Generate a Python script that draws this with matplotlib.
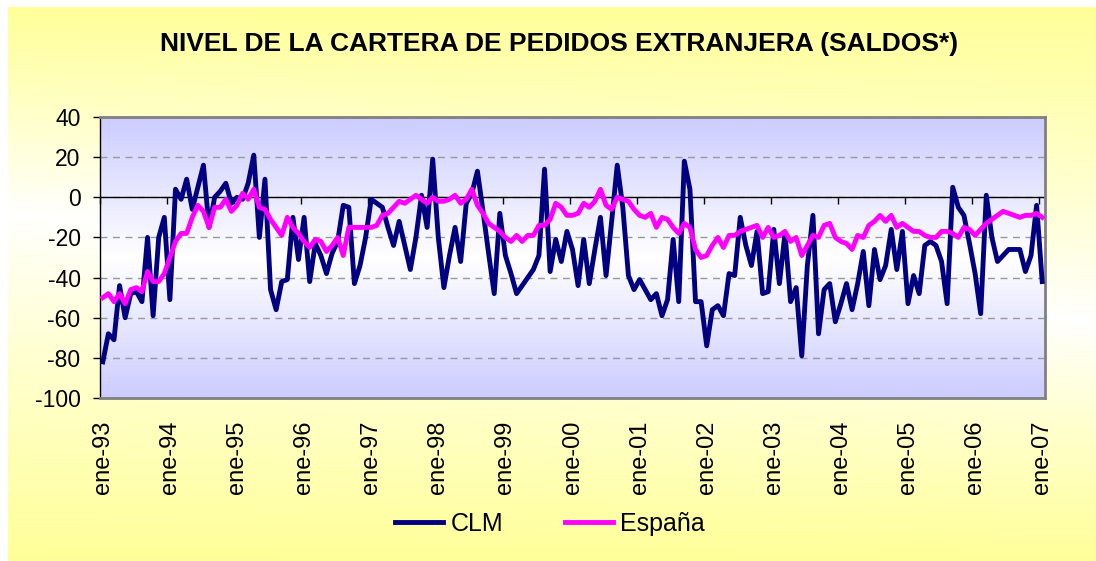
import matplotlib.pyplot as plt
import numpy as np

plt.rcParams['font.family'] = ['Liberation Sans', 'DejaVu Sans']
plt.rcParams['axes.unicode_minus'] = False

# saldos mensuales, ene-93 a ene-07 (una fila por año)
clm = [
    -82, -68, -71, -44, -60, -48, -47, -52, -20, -59, -20, -10,
    -51, 4, -1, 9, -6, 5, 16, -15, 0, 3, 7, -3,
    0, -1, 7, 21, -20, 9, -46, -56, -42, -41, -10, -31,
    -10, -42, -23, -29, -38, -28, -22, -4, -5, -43, -34, -20,
    -1, -3, -5, -15, -24, -12, -24, -36, -20, 1, -15, 19,
    -20, -45, -29, -15, -32, -3, 2, 13, -7, -28, -48, -8,
    -29, -38, -48, -44, -40, -36, -29, 14, -37, -21, -32, -17,
    -26, -44, -21, -43, -26, -10, -39, -12, 16, -5, -39, -46,
    -41, -46, -51, -48, -59, -51, -21, -52, 18, 4, -52, -52,
    -74, -56, -54, -59, -38, -39, -10, -24, -34, -17, -48, -47,
    -16, -43, -18, -52, -45, -79, -34, -9, -68, -46, -43, -62,
    -53, -43, -56, -43, -27, -54, -26, -41, -34, -16, -36, -17,
    -53, -39, -48, -24, -22, -24, -32, -53, 5, -5, -9, -23,
    -38, -58, 1, -20, -32, -29, -26, -26, -26, -37, -29, -4,
    -42,
]

espana = [
    -50, -48, -52, -48, -53, -46, -45, -47, -37, -42, -42, -38,
    -30, -22, -18, -18, -10, -4, -7, -15, -5, -5, -1, -7,
    -4, 2, -1, 4, -5, -6, -11, -15, -19, -10, -15, -18,
    -22, -25, -21, -22, -27, -24, -20, -29, -15, -15, -15, -15,
    -15, -14, -9, -8, -5, -2, -3, -1, 1, -1, -3, 0,
    -2, -2, -1, 1, -3, -1, 4, -4, -8, -13, -15, -17,
    -20, -22, -19, -22, -19, -19, -14, -14, -11, -3, -5, -9,
    -9, -8, -3, -5, -2, 4, -4, -6, 0, -1, -2, -6,
    -9, -10, -8, -15, -10, -11, -15, -18, -13, -15, -26, -30,
    -29, -24, -20, -25, -19, -19, -17, -16, -15, -14, -20, -15,
    -20, -19, -17, -22, -20, -29, -24, -19, -20, -14, -13, -20,
    -22, -23, -26, -19, -20, -14, -12, -9, -12, -9, -15, -13,
    -15, -17, -17, -19, -20, -20, -17, -17, -18, -20, -15, -16,
    -19, -16, -13, -11, -9, -7, -8, -9, -10, -9, -9, -8,
    -10,
]

tick_labels = ['ene-93', 'ene-94', 'ene-95', 'ene-96', 'ene-97', 'ene-98',
               'ene-99', 'ene-00', 'ene-01', 'ene-02', 'ene-03', 'ene-04',
               'ene-05', 'ene-06', 'ene-07']

n = len(clm)
x = np.arange(n)

fig = plt.figure(figsize=(10.96, 5.61), dpi=100)
fig.patch.set_facecolor('white')

# fondo amarillo con degradado
bg = fig.add_axes([8 / 1096, 0, 1 - 8 / 1096, 1 - 7 / 561], zorder=-10)
bg.set_axis_off()
h, w = 554, 1088
yy, xx = np.mgrid[0:h, 0:w]
yc = 205 + 110 * xx / w
t = np.where(yy < yc, (yc - yy) / yc, (yy - yc) / (h - yc))
t = np.clip(t, 0, 1) ** 0.9
yellow = np.array([255, 255, 153]) / 255
bg.imshow(1 - t[..., None] * (1 - yellow), aspect='auto', extent=[0, 1, 0, 1])
bg.set_xlim(0, 1)
bg.set_ylim(0, 1)

# area de trazado
ax = fig.add_axes([100 / 1096, 1 - 398 / 561, 945 / 1096, 281 / 561])
g = np.abs(np.linspace(0, 1, 256) - 0.5) * 2
blue = np.array([204, 204, 255]) / 255
ax.imshow(1 - g[:, None, None] * (1 - blue), aspect='auto',
          extent=[-0.5, n - 0.5, -100, 40], zorder=0)

ax.set_axisbelow(True)
ax.yaxis.grid(True, linestyle=(0, (5, 4)), color='#999999', linewidth=1)
ax.axhline(0, color='black', linewidth=1, zorder=1)

ax.plot(x, clm, color='#000080', linewidth=3.5, solid_joinstyle='round', label='CLM', zorder=3)
ax.plot(x, espana, color='#FF00FF', linewidth=3.5, solid_joinstyle='round', label='España', zorder=4)

ax.set_xlim(-0.5, n - 0.5)
ax.set_ylim(-100, 40)
ax.set_yticks(range(-100, 41, 20))
ax.tick_params(axis='y', length=5, width=1, pad=9, labelsize=16.5, colors='black')

ax.set_xticks(np.arange(0, n, 12))
ax.set_xticklabels(tick_labels, rotation=90, fontsize=17)
ax.tick_params(axis='x', length=0, pad=16)

# marcas de años sobre la linea del cero
sec = ax.secondary_xaxis(100 / 140)
sec.set_alignment('bottom')
sec.set_xticks(np.arange(-0.5, n, 12))
sec.tick_params(length=5, width=1, color='black', labelbottom=False)
sec.spines['bottom'].set_visible(False)

for side in ['top', 'right', 'bottom']:
    ax.spines[side].set_color('#808080')
    ax.spines[side].set_linewidth(2)
ax.spines['left'].set_color('black')
ax.spines['left'].set_linewidth(1)

fig.text(0.51, 0.922, 'NIVEL DE LA CARTERA DE PEDIDOS EXTRANJERA (SALDOS*)',
         ha='center', va='center', fontsize=19, fontweight='bold')

fig.legend(loc='center', bbox_to_anchor=(0.502, 0.066), ncol=2, frameon=False,
           fontsize=18, handlelength=1.9, handletextpad=0.3, columnspacing=2.5)

fig.savefig('out.png', dpi=100)
